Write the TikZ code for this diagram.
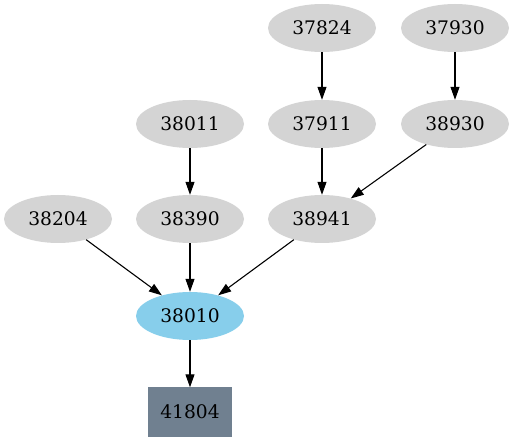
\documentclass[tikz,border=0pt]{standalone}
\usepackage{fontspec}
\setmainfont{DejaVu Serif}
\usetikzlibrary{arrows.meta,shapes.geometric}
\begin{document}
\begin{tikzpicture}[x=1pt,y=-1pt,
  nd/.style={ellipse,fill=black!17,minimum width=108pt,minimum height=48pt,inner sep=0pt,font=\fontsize{18.67}{22}\selectfont},
  ctr/.style={nd,fill={rgb,255:red,135;green,206;blue,235}},
  sink/.style={rectangle,fill={rgb,255:red,112;green,128;blue,144},minimum width=84pt,minimum height=49pt,inner sep=0pt,font=\fontsize{18.67}{22}\selectfont},
  conn/.style={-{Triangle[length=13pt,width=9pt]},line width=1.1pt,black}]
\useasboundingbox (0,0) rectangle (514,443);
\node[nd] (a37824) at (322,28) {37824};
\node[nd] (a37930) at (455,28) {37930};
\node[nd] (a38011) at (190,124) {38011};
\node[nd] (a37911) at (322,124) {37911};
\node[nd] (a38930) at (455,124) {38930};
\node[nd] (a38204) at (58,219) {38204};
\node[nd] (a38390) at (190,219) {38390};
\node[nd] (a38941) at (322,219) {38941};
\node[ctr] (a38010) at (190,316) {38010};
\node[sink] (a41804) at (190,412) {41804};
\draw[conn] (a37824) -- (a37911);
\draw[conn] (a37930) -- (a38930);
\draw[conn] (a38011) -- (a38390);
\draw[conn] (a37911) -- (a38941);
\draw[conn] (a38930) -- (a38941);
\draw[conn] (a38204) -- (a38010);
\draw[conn] (a38390) -- (a38010);
\draw[conn] (a38941) -- (a38010);
\draw[conn] (a38010) -- (a41804);
\end{tikzpicture}
\end{document}
